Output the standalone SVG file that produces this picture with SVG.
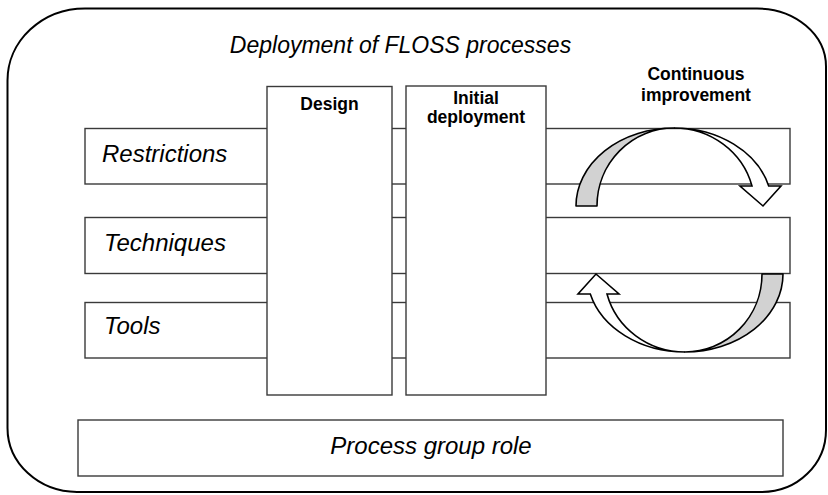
<svg xmlns="http://www.w3.org/2000/svg" width="828" height="495" viewBox="0 0 828 495">
  <style>
    .frame { fill: #ffffff; stroke: #000000; stroke-width: 2; }
    .box { fill: #ffffff; stroke: #3a3a3a; stroke-width: 1.4; }
    .arrow-back { fill: #d2d2d2; stroke: #000000; stroke-width: 1.6; stroke-linejoin: round; }
    .arrow-front { fill: #ffffff; stroke: #000000; stroke-width: 1.6; stroke-linejoin: miter; }
    .it { font-family: "Liberation Sans", Arial, sans-serif; font-style: italic; fill: #000000; }
    .bold { font-family: "Liberation Sans", Arial, sans-serif; font-weight: bold; font-size: 17.5px; fill: #000000; text-anchor: middle; }
  </style>
  <defs>
    <!-- curved arrow: back band on the left, front band ending in a head on the right -->
    <g id="curved-arrow">
      <path class="arrow-back" d="M 576,206 A 98 78 0 0 1 674,128 A 77 78 0 0 0 597,206 Z"/>
      <path class="arrow-front" d="M 674,128 A 98 78 0 0 1 768.7,186 L 781,186 L 763,206 L 740,186 L 752,186 A 80.7 78 0 0 0 674,128 Z"/>
    </g>
  </defs>

  <!-- outer frame -->
  <g id="frame">
    <path class="frame" d="M 85,8.5 L 757,8.5 A 69 58 0 0 1 826,66.5 L 826,430 A 64 62 0 0 1 762,492 L 77,492 A 70 64 0 0 1 7.5,428 L 7.5,80.5 A 77.5 72 0 0 1 85,8.5 Z"/>
    <text class="it" x="400.5" y="53" font-size="23" text-anchor="middle">Deployment of FLOSS processes</text>
  </g>

  <!-- horizontal rows -->
  <g id="row-restrictions">
    <rect class="box" x="85" y="128.5" width="705" height="55.5"/>
    <text class="it" x="102" y="162" font-size="24">Restrictions</text>
  </g>
  <g id="row-techniques">
    <rect class="box" x="85" y="217.5" width="705" height="56"/>
    <text class="it" x="104" y="251" font-size="24">Techniques</text>
  </g>
  <g id="row-tools">
    <rect class="box" x="85" y="302.5" width="705" height="55.5"/>
    <text class="it" x="104" y="333.5" font-size="24">Tools</text>
  </g>

  <!-- process group role -->
  <g id="process-group-role">
    <rect class="box" x="78" y="420" width="705" height="56"/>
    <text class="it" x="431" y="454" font-size="24" text-anchor="middle">Process group role</text>
  </g>

  <!-- vertical phases -->
  <g id="design">
    <rect class="box" x="267" y="86.5" width="125" height="308.5"/>
    <text class="bold" x="329.5" y="110">Design</text>
  </g>
  <g id="initial-deployment">
    <rect class="box" x="406" y="86" width="140" height="309"/>
    <text class="bold" x="476" y="104">Initial</text>
    <text class="bold" x="476" y="123">deployment</text>
  </g>

  <!-- improvement cycle -->
  <g id="continuous-improvement">
    <text class="bold" x="696" y="80">Continuous</text>
    <text class="bold" x="696" y="101">improvement</text>
  </g>
  <g id="connectors">
    <use href="#curved-arrow"/>
    <use href="#curved-arrow" transform="rotate(180 679.5 240)"/>
  </g>
</svg>
